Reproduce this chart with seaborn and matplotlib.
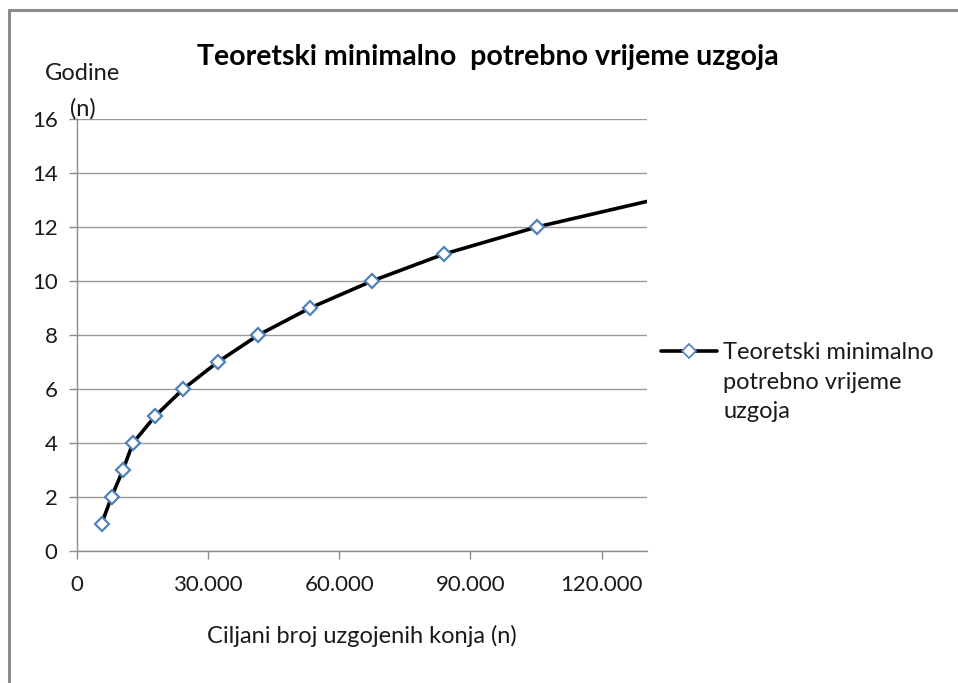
import matplotlib
matplotlib.use("Agg")
import matplotlib.pyplot as plt
from matplotlib.lines import Line2D
from matplotlib.ticker import FuncFormatter
import pandas as pd
import seaborn as sns

# target number of bred horses vs. years needed
konji = [5600, 7900, 10500, 12800, 17900, 24300, 32200, 41500, 53300, 67500, 84000, 105200, 131800]
godine = [1, 2, 3, 4, 5, 6, 7, 8, 9, 10, 11, 12, 13]

serija = "Teoretski minimalno\npotrebno vrijeme\nuzgoja"
naslov = "Teoretski minimalno  potrebno vrijeme uzgoja"
x_naziv = "Ciljani broj uzgojenih konja (n)"
y_naziv = ["Godine", "(n)"]
x_ticks = [0, 30000, 60000, 90000, 120000]
y_ticks = [0, 2, 4, 6, 8, 10, 12, 14, 16]

data = pd.DataFrame({"konji": konji, "godine": godine})

sns.set_style("white")
plt.rcParams["font.family"] = ["Lato", "DejaVu Sans"]

fig = plt.figure(figsize=(9.58, 6.83), dpi=100)
ax = fig.add_axes([0.0804, 0.1933, 0.595, 0.6325])

sns.lineplot(data=data, x="konji", y="godine", ax=ax, color="black", linewidth=2.6,
             marker="D", markersize=7.5, markerfacecolor="white",
             markeredgecolor="#4F81BD", markeredgewidth=1.6,
             markevery=list(range(len(konji) - 1)))

ax.set_xlim(0, 130400)
ax.set_ylim(0, 16)
ax.set_xticks(x_ticks)
ax.set_yticks(y_ticks)
ax.xaxis.set_major_formatter(FuncFormatter(lambda v, p: f"{int(v):,}".replace(",", ".")))
ax.yaxis.grid(True, color="#9a9a9a", linewidth=1)
ax.set_axisbelow(True)
for s in ["top", "right"]:
    ax.spines[s].set_visible(False)
for s in ["left", "bottom"]:
    ax.spines[s].set_color("#8c8c8c")
    ax.spines[s].set_linewidth(1)
ax.tick_params(axis="both", direction="out", length=6, width=1, color="#8c8c8c",
               labelsize=16, labelcolor="#1a1a1a", pad=8, left=True, bottom=True)
ax.tick_params(axis="x", pad=11)

ax.set_xlabel(x_naziv, fontsize=17, color="#1a1a1a", labelpad=22)
ax.set_ylabel("")
# y axis title sits above the axis in two lines
fig.text(0.0866, 0.892, y_naziv[0], ha="center", va="center", fontsize=17, color="#1a1a1a")
fig.text(0.0866, 0.840, y_naziv[1], ha="center", va="center", fontsize=17, color="#1a1a1a")
fig.text(0.509, 0.916, naslov, ha="center", va="center", fontsize=20.5,
         fontweight="bold", color="black")

handle = Line2D([], [], color="black", linewidth=2.6, marker="D", markersize=7,
                markerfacecolor="white", markeredgecolor="#4F81BD", markeredgewidth=1.2)
leg = ax.legend([handle], [serija], loc="center left", bbox_to_anchor=(0.995, 0.39),
                frameon=False, fontsize=17, handlelength=2.4, handletextpad=0.25,
                labelcolor="#1a1a1a", borderaxespad=0.3)
for t in leg.get_texts():
    t.set_linespacing(1.5)
# align the legend key with the first line of the label, like Excel does
for h in leg.legend_handles:
    h.set_ydata([y + 23 for y in h.get_ydata()])

# chart frame (only top and left edges visible)
fig.add_artist(Line2D([0.0094, 0.0094], [0, 0.986], transform=fig.transFigure,
                      color="#8a8a8a", linewidth=2.2))
fig.add_artist(Line2D([0.0094, 1], [0.986, 0.986], transform=fig.transFigure,
                      color="#8a8a8a", linewidth=2.2))

fig.savefig("out.png", dpi=100)
